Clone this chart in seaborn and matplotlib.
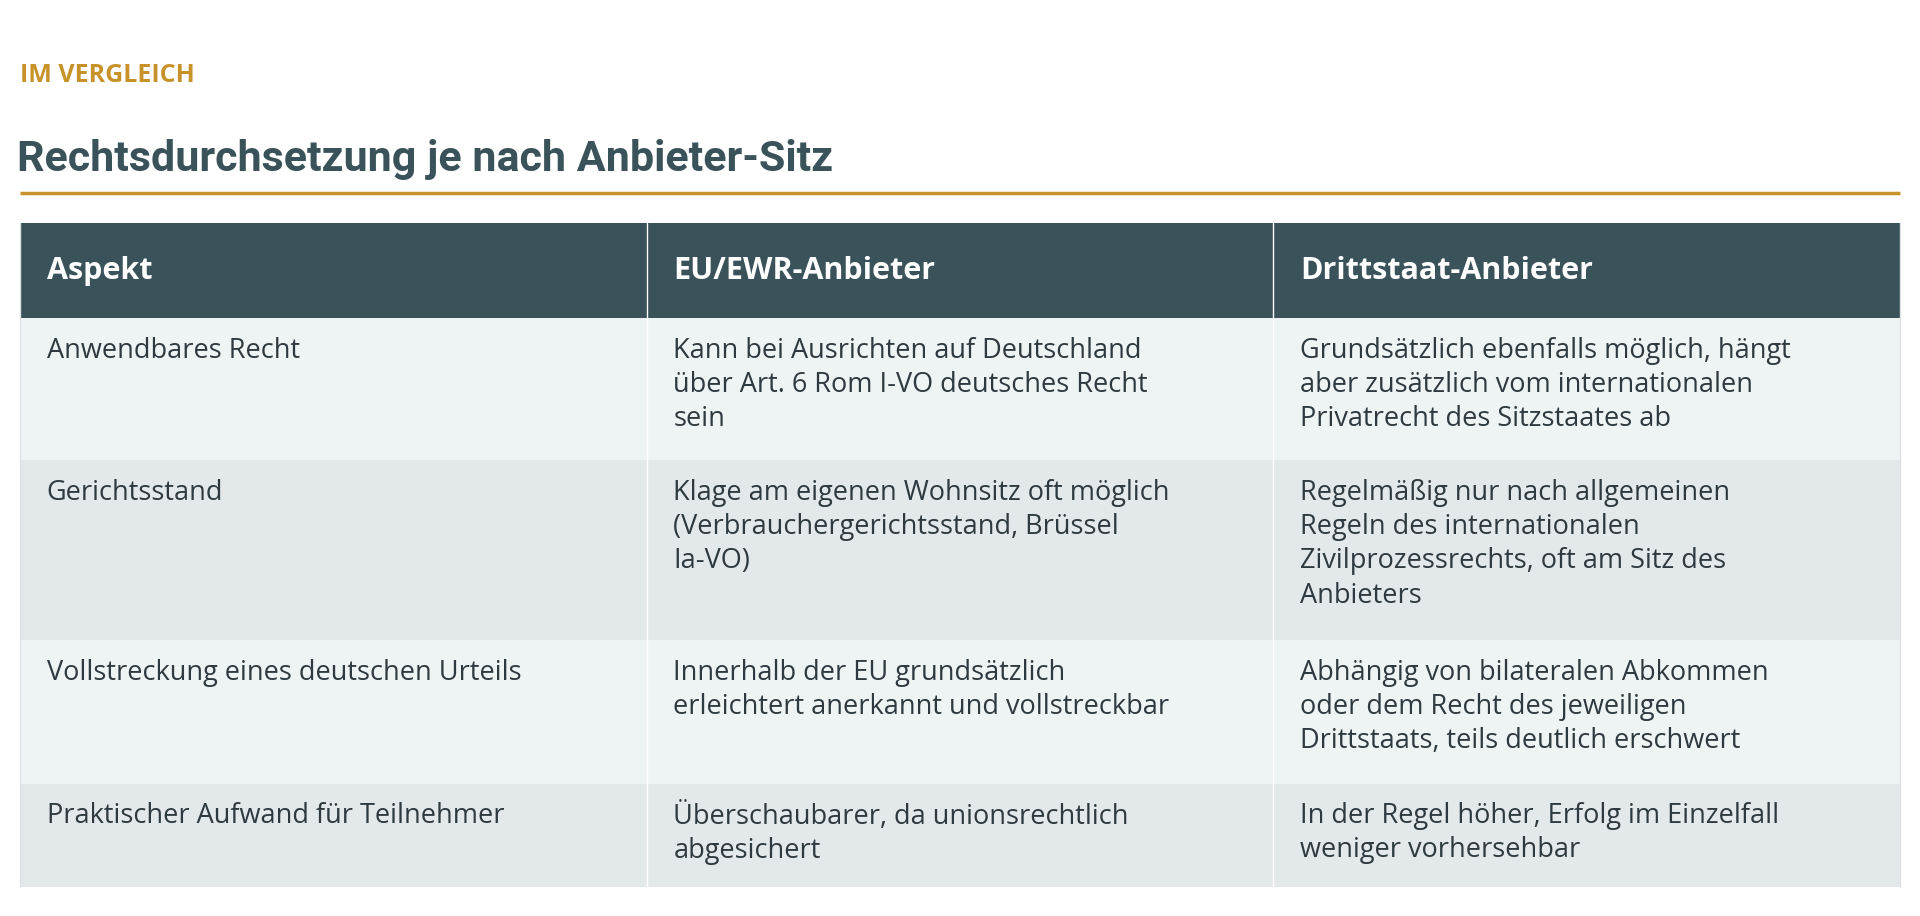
import matplotlib
matplotlib.use("Agg")
import matplotlib.pyplot as plt
from matplotlib.patches import Rectangle
import seaborn as sns

kicker = "IM VERGLEICH"
title = "Rechtsdurchsetzung je nach Anbieter-Sitz"
headers = ["Aspekt", "EU/EWR-Anbieter", "Drittstaat-Anbieter"]
col_aspekt = ["Anwendbares Recht", "Gerichtsstand",
              "Vollstreckung eines deutschen Urteils",
              "Praktischer Aufwand für Teilnehmer"]
col_eu = ["Kann bei Ausrichten auf Deutschland\nüber Art. 6 Rom I-VO deutsches Recht\nsein",
          "Klage am eigenen Wohnsitz oft möglich\n(Verbrauchergerichtsstand, Brüssel\nIa-VO)",
          "Innerhalb der EU grundsätzlich\nerleichtert anerkannt und vollstreckbar",
          "Überschaubarer, da unionsrechtlich\nabgesichert"]
col_dritt = ["Grundsätzlich ebenfalls möglich, hängt\naber zusätzlich vom internationalen\nPrivatrecht des Sitzstaates ab",
             "Regelmäßig nur nach allgemeinen\nRegeln des internationalen\nZivilprozessrechts, oft am Sitz des\nAnbieters",
             "Abhängig von bilateralen Abkommen\noder dem Recht des jeweiligen\nDrittstaats, teils deutlich erschwert",
             "In der Regel höher, Erfolg im Einzelfall\nweniger vorhersehbar"]

sns.set_theme(style="white")
plt.rcParams['font.family'] = ['Open Sans', 'DejaVu Sans']

W, H = 1568, 748
fig = plt.figure(figsize=(19.2, 9.16), dpi=100)
ax = fig.add_axes([0, 0, 1, 1])
ax.set_xlim(0, W); ax.set_ylim(H, 0); ax.axis("off")

dark = "#3A525A"; orange = "#C8922A"; txt = "#2E3A3F"
ax.text(16, 62, kicker, color=orange, fontsize=18, fontweight="bold", va="center")
ax.text(14, 130, title, color=dark, fontsize=31, fontweight="bold", va="center",
        family=["Roboto", "DejaVu Sans"])
ax.plot([16, 1552], [158, 158], color=orange, lw=2.5, solid_capstyle="butt")

cols = [16, 528, 1040, 1552]
rows = [182, 260, 376, 523, 640, 724]
fills = ["#EEF3F4", "#E3E8EA"]
ax.add_patch(Rectangle((16, rows[0]), 1536, rows[1] - rows[0], color=dark, lw=0))
for i, h in enumerate(headers):
    ax.text(cols[i] + 22, (rows[0] + rows[1]) / 2, h, color="white", fontsize=22,
            fontweight="bold", va="center")
data = list(zip(col_aspekt, col_eu, col_dritt))
for r, row in enumerate(data):
    y0, y1 = rows[r + 1], rows[r + 2]
    ax.add_patch(Rectangle((16, y0), 1536, y1 - y0, color=fills[r % 2], lw=0))
    for c, t in enumerate(row):
        ax.text(cols[c] + 22, y0 + 15, t, color=txt, fontsize=19.5, va="top",
                linespacing=1.3)
for x in cols[1:3]:
    ax.plot([x, x], [rows[0], rows[-1]], color="white", lw=1)
ax.plot([16, 16], [rows[0], rows[-1]], color="#DDE3E5", lw=1)
ax.plot([1552, 1552], [rows[0], rows[-1]], color="#DDE3E5", lw=1)

fig.savefig("out.png", dpi=100, facecolor="white")
